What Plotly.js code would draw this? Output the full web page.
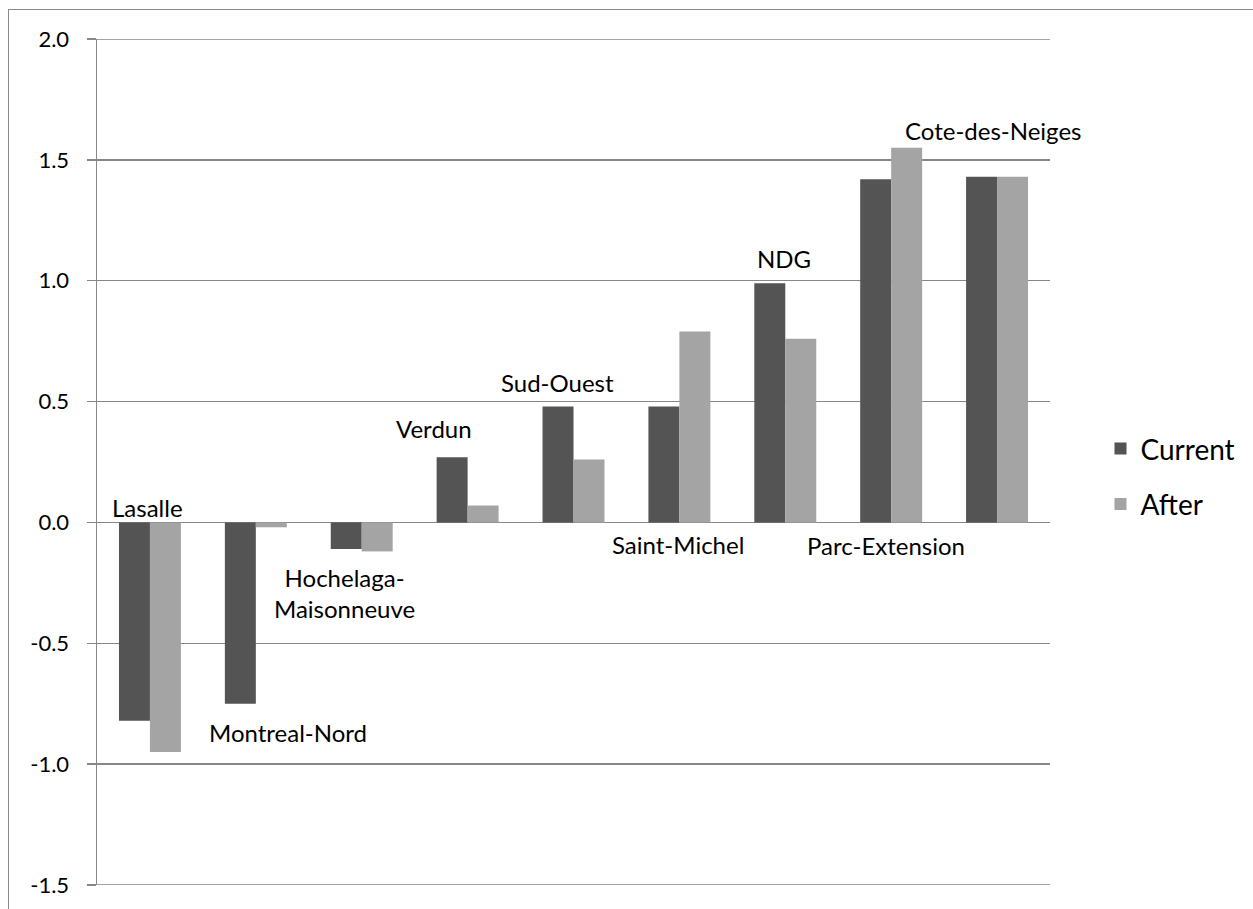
<!DOCTYPE html>
<html>
<head>
<meta charset="utf-8">
<script src="https://cdn.plot.ly/plotly-3.0.1.min.js"></script>
<style>
  html, body { margin: 0; padding: 0; background: #fff; }
  #wrap { position: relative; width: 1253px; height: 909px; }
  #chart { width: 1253px; height: 909px; }
  #frame { position: absolute; left: 8px; top: 9px; right: 0; bottom: 0;
           border-left: 1.5px solid #8a8a8a; border-top: 1.5px solid #8a8a8a;
           pointer-events: none; }
</style>
</head>
<body>
<div id="wrap">
  <div id="chart"></div>
  <div id="frame"></div>
</div>
<script>
// Data
const categories = ["Lasalle", "Montreal-Nord", "Hochelaga-Maisonneuve", "Verdun", "Sud-Ouest",
                    "Saint-Michel", "NDG", "Parc-Extension", "Cote-des-Neiges"];
const currentValues = [-0.82, -0.75, -0.11, 0.27, 0.48, 0.48, 0.99, 1.42, 1.43];
const afterValues   = [-0.95, -0.02, -0.12, 0.07, 0.26, 0.79, 0.76, 1.55, 1.43];
const seriesNames = ["Current", "After"];
const yTicks = [-1.5, -1.0, -0.5, 0.0, 0.5, 1.0, 1.5, 2.0];
const labelTexts = ["Lasalle", "Montreal-Nord", "Hochelaga-<br>Maisonneuve", "Verdun", "Sud-Ouest",
                    "Saint-Michel", "NDG", "Parc-Extension", "Cote-des-Neiges"];

// Label placement (style only): x in category units, y in axis units
const labelPos = [
  [-0.02, 0.06], [1.30, -0.87], [1.84, -0.29], [2.68, 0.39], [3.85, 0.58],
  [4.99, -0.09], [5.99, 1.09], [6.95, -0.095], [7.96, 1.62]
];

const FONT = "Lato, 'Open Sans', sans-serif";
const GRID = "#878787";

const traces = [
  { type: "bar", name: seriesNames[0], legendgroup: "g1", x: categories, y: currentValues,
    marker: { color: "#545454" } },
  { type: "bar", name: seriesNames[1], legendgroup: "g2", x: categories, y: afterValues,
    marker: { color: "#a4a4a4" } }
];

const annotations = labelTexts.map((t, i) => ({
  x: labelPos[i][0], y: labelPos[i][1], xref: "x", yref: "y",
  text: t, showarrow: false, align: "center",
  font: { family: FONT, size: 24, color: "#000" }
}));

const edgeLines = [yTicks[0], yTicks[yTicks.length - 1]].map(v => ({
  type: "line", xref: "paper", yref: "y", x0: 0, x1: 1, y0: v, y1: v,
  line: { color: GRID, width: 1.5 }, layer: "below"
}));

const layout = {
  width: 1253, height: 909,
  margin: { l: 97, r: 201, t: 39, b: 24 },
  paper_bgcolor: "#fff", plot_bgcolor: "#fff",
  barmode: "group", bargap: 0.415, bargroupgap: 0,
  showlegend: true,
  legend: { x: 1.053, y: 0.483, xanchor: "left", yanchor: "middle",
            font: { family: FONT, size: 28, color: "#000" },
            tracegroupgap: 16, traceorder: "grouped" },
  xaxis: { type: "category", showticklabels: false, ticks: "", showgrid: false,
           zeroline: false, showline: false, range: [-0.5, 8.5] },
  yaxis: { range: [-1.5, 2.0], tickvals: yTicks, ticktext: yTicks.map(v => v.toFixed(1)),
           showgrid: true, gridcolor: GRID, gridwidth: 1.5,
           zeroline: true, zerolinecolor: GRID, zerolinewidth: 1.5,
           showline: true, linecolor: GRID, linewidth: 1.5,
           ticks: "outside", ticklen: 9, tickcolor: GRID, tickwidth: 1.5,
           ticklabelstandoff: 13,
           tickfont: { family: FONT, size: 22, color: "#000" } },
  shapes: edgeLines,
  annotations: annotations
};

Plotly.newPlot("chart", traces, layout, { staticPlot: true, displayModeBar: false });
</script>
</body>
</html>
